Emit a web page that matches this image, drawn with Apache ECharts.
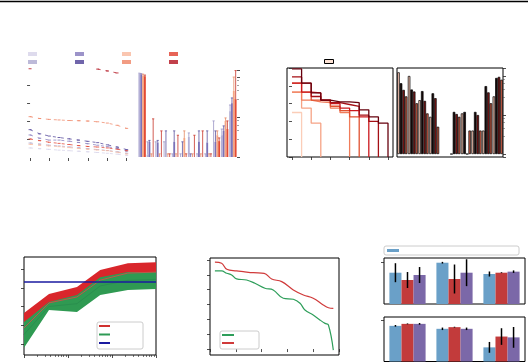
<!DOCTYPE html>
<html><head><meta charset="utf-8">
<script src="https://cdn.jsdelivr.net/npm/echarts/dist/echarts.min.js"></script>
<style>html,body{margin:0;padding:0;background:#fff}#c{width:528px;height:362px}</style>
</head><body><div id="c"></div>
<script>
// ---------- Panel A (dashed lines) ----------
const aX = [0,0.5,1,1.5,2,2.5,3,3.5,4,4.5,5];
const aLightLav  = [0.55,0.51,0.47,0.43,0.40,0.37,0.34,0.30,0.26,0.21,0.14];
const aLav       = [0.82,0.76,0.70,0.66,0.61,0.56,0.51,0.46,0.41,0.34,0.26];
const aPurple    = [1.26,1.08,0.98,0.98,0.92,0.85,0.78,0.70,0.62,0.52,0.38];
const aDarkPurple= [1.55,1.32,1.20,1.12,1.05,0.98,0.91,0.84,0.72,0.60,0.46];
const aLightSal  = [0.75,0.70,0.66,0.62,0.57,0.52,0.48,0.44,0.40,0.32,0.22];
const aSalmon    = [2.26,2.16,2.11,2.08,2.05,2.04,2.02,1.98,1.91,1.79,1.62];
const aRed       = [1.04,0.95,0.86,0.80,0.74,0.68,0.63,0.60,0.55,0.48,0.40];
const aDarkRed   = [4.88,null,null,null,null,null,null,4.86,4.76,4.65,null];
const aTicksX = [0,1,2,3,4,5];
const aTicksY = [1,2,3,4];

// ---------- Panel B (grouped bars, log) ----------
const bCats = ['1','2','3','4','5','6','7','8','9','10','11','12'];
const bLav    = [120,1.15,1.0,1.0,1.0,1.0,3.2,1.0,1.0,1.0,3.5,14];
const bPurple = [115,2.4,2.3,1.0,2.4,1.0,1.0,2.4,2.3,2.4,4.5,22];
const bSalmon = [110,1.0,1.0,1.0,1.0,3.0,1.0,1.0,1.0,3.5,8.0,45];
const bRed    = [105,1.0,1.0,1.0,1.0,1.0,1.0,1.0,1.0,2.5,5.0,28];
const bLavHi    = [125,2.4,2.4,2.4,1.2,1.2,4.0,1.2,1.2,8.0,5.0,20];
const bPurpleHi = [120,2.6,2.6,4.5,4.5,2.4,1.2,4.5,4.5,4.5,6.0,30];
const bSalmonHi = [118,1.2,1.2,1.2,1.2,4.5,1.2,1.2,1.2,4.5,9.5,100];
const bRedHi    = [112,9.0,4.5,1.2,3.5,1.2,3.5,4.5,1.2,3.0,8.0,145];

// ---------- Panel C (step curves) ----------
const cX = [0,0.5,1,1.5,2,2.5,3,3.5,4,4.5,5];
const cS1 = [4.95,4.15,3.6,3.2,3.1,3.1,3.05,2.65,2.25,1.9,0];
const cS2 = [4.5,4.15,3.4,3.2,3.05,2.95,2.85,2.35,2.0,0];
const cS3 = [4.15,3.65,3.6,3.2,3.0,2.75,2.6,2.25,0];
const cS4 = [4.15,3.65,3.2,3.15,2.85,2.6,2.25,0];
const cS5 = [3.65,3.2,3.1,3.05,2.75,2.5,0];
const cS6 = [3.65,2.75,1.9,0];
const cS7 = [2.5,0];
const cTicks = [0,1,2,3,4,5];

// ---------- Panel D (dark bars, log) ----------
const dCats = ['1','2','3','4','5','6','7','8','9','10'];
const dLight  = [124,100,24,9,null,1,11,4,4,30];
const dBlack  = [65,45,41,36,null,12,12,12,55,89];
const dDark   = [44,40,23,27,null,10.6,1,10,38,95];
const dSalmon = [30,20,11,5,null,9,4,4,20,80];

// ---------- Panel E (bands, log x) ----------
const eX = [1,3.7,16,54,230,1000];
const eRedHigh   = [2.65,3.67,4.04,4.95,5.32,5.37];
const eRedLow    = [2.05,3.15,3.5,4.45,4.75,4.75];
const eGreenHigh = [2.17,3.24,3.61,4.57,4.84,4.84];
const eGreenLow  = [0.79,2.81,2.71,3.61,3.88,3.93];
const eRedMean   = [1.85,3.19,3.51,4.41,4.79,4.84];
const eGreenMean = [1.5,3.0,3.15,4.1,4.4,4.45];
const eBlueX = [1,1000];
const eBlueY = [4.31,4.31];
const eTicksY = [1,2,3,4,5];

// ---------- Panel F (two decreasing lines) ----------
const fRedX = [0.19,0.45,0.65,1.03,1.29,1.68,2.10,2.39,2.78,3.23,3.62,4.00,4.39,4.59,4.78];
const fRedY = [5.85,5.78,5.37,5.26,5.21,5.14,5.10,4.72,4.54,3.98,3.64,3.42,2.97,2.78,2.74];
const fGreenX = [0.19,0.45,0.65,0.84,1.03,1.42,1.74,2.13,2.45,2.84,3.23,3.49,3.68,4.00,4.26,4.46,4.59,4.78];
const fGreenY = [5.26,5.26,5.10,4.99,4.72,4.65,4.43,4.09,3.98,3.42,3.35,3.08,2.63,2.29,1.96,1.73,1.62,-0.07];
const fTicksY = [0,1,2,3,4,5,6];

// ---------- Panel G (two bar subplots) ----------
const gCats = ['1','2','3'];
const gTopBlue = [0.745,0.983,0.714], gTopBlueErr = [0.226,0.02,0.06];
const gTopRed = [0.571,0.595,0.745], gTopRedErr = [0.19,0.345,0.01];
const gTopPurple = [0.69,0.745,0.77], gTopPurpleErr = [0.19,0.32,0.03];
const gBotBlue = [0.857,0.786,0.34], gBotBlueErr = [0.02,0.03,0.13];
const gBotRed = [0.905,0.826,0.60], gBotRedErr = [0.01,0.01,0.2];
const gBotPurple = [0.905,0.786,0.58], gBotPurpleErr = [0.02,0.03,0.25];

// ---------- helpers ----------
const tick = (vals) => ({show:true, length:3, lineStyle:{color:'#222', width:0.8}, customValues: vals});
function vAxis(gi, extra){
  return Object.assign({type:'value', gridIndex:gi, axisLine:{show:false}, axisLabel:{show:false},
    splitLine:{show:false}, axisTick:{show:true, length:3, lineStyle:{color:'#222', width:0.8}}}, extra);
}
function cAxis(gi, data, extra){
  return Object.assign({type:'category', gridIndex:gi, data, axisLine:{show:false}, axisLabel:{show:false},
    axisTick:{show:false}, splitLine:{show:false}}, extra);
}
const zip = (xs, ys) => xs.map((x,i)=>[x, ys[i]]);
function aLine(name, ys, color){
  return {type:'line', name, xAxisIndex:0, yAxisIndex:0, data: zip(aX, ys), connectNulls:false,
    symbol:'rect', symbolSize:[3,1], showAllSymbol:true, itemStyle:{color, opacity:0.85},
    lineStyle:{color, width:0.9, type:[3,5], opacity:0.85}, z:3};
}
function bars(name, xi, yi, vals, color, gap, extra){
  return Object.assign({type:'bar', name, xAxisIndex:xi, yAxisIndex:yi, data: vals,
    barGap:'0%', barCategoryGap: gap, itemStyle:{color}}, extra||{});
}
function errBars(xi, yi, lo, hi, k, n, gap, color, cap, lw){
  return {type:'custom', xAxisIndex:xi, yAxisIndex:yi, z:5, silent:true,
    data: lo.map((l,i)=>[i, l, hi[i]]),
    renderItem(params, api){
      const i = api.value(0), l = api.value(1), h = api.value(2);
      if (isNaN(l) || isNaN(h)) return null;
      const band = api.size([1,0])[0];
      const inner = band*(1-gap);
      const bw = inner/n;
      const p1 = api.coord([i, l]), p2 = api.coord([i, h]);
      const cx = p1[0] - inner/2 + bw*(k+0.5);
      const c = bw*cap;
      const st = {stroke:color, lineWidth:lw};
      const ch = [{type:'line', shape:{x1:cx,y1:p1[1],x2:cx,y2:p2[1]}, style:st}];
      if (c > 0) {
        ch.push({type:'line', shape:{x1:cx-c,y1:p2[1],x2:cx+c,y2:p2[1]}, style:st});
      }
      return {type:'group', children: ch};
    }};
}
function band(xi, yi, xs, lo, hi, color, z){
  return {type:'custom', xAxisIndex:xi, yAxisIndex:yi, z, silent:true,
    data: xs.map((x,i)=>[x, lo[i], hi[i]]),
    encode:{x:0, y:[1,2]},
    renderItem(params, api){
      if (params.dataIndex !== 0) return null;
      const pts = [];
      for (let i=0;i<xs.length;i++) pts.push(api.coord([xs[i], hi[i]]));
      for (let i=xs.length-1;i>=0;i--) pts.push(api.coord([xs[i], lo[i]]));
      return {type:'polygon', shape:{points:pts}, style:{fill:color}};
    }};
}
const pm = (v, e, s) => v.map((x,i)=> x + s*e[i]);

const border = {show:true, borderColor:'#000', borderWidth:1, backgroundColor:'transparent'};
const noText = () => '';
const legendBase = {formatter: noText, textStyle:{fontSize:2}, selectedMode:false};

const cColors = ['#67000d','#a50f15','#cb181d','#e0502f','#f07c5a','#f6a385','#fbcdb8'];
const cData = [cS1,cS2,cS3,cS4,cS5,cS6,cS7];

const gBlue = '#6aa0c8', gRed = '#c23b3b', gPurple = '#7b68a8';
const gGap = 0.23;

const option = {
  animation:false,
  backgroundColor:'#fff',
  graphic:[{type:'line', shape:{x1:0,y1:1.5,x2:528,y2:1.5}, style:{stroke:'#000', lineWidth:1.5}}],
  legend:[
    Object.assign({}, legendBase, {left:28, top:52, itemWidth:9, itemHeight:4, itemGap:38, icon:'rect', padding:0,
      data:['A lightlav','A purple','A lightsal','A red']}),
    Object.assign({}, legendBase, {left:28, top:60, itemWidth:9, itemHeight:4, itemGap:38, icon:'rect', padding:0,
      data:['A lav','A darkpurple','A salmon','A darkred']}),
    Object.assign({}, legendBase, {left:324, top:59, itemWidth:9, itemHeight:4, icon:'rect', padding:0,
      data:[{name:'C7', itemStyle:{color:'#fde2d4', borderColor:'#000', borderWidth:1}}]}),
    Object.assign({}, legendBase, {left:97, top:322, orient:'vertical', itemWidth:11, itemHeight:2, itemGap:6.5,
      icon:'rect', padding:[3,33,5,2], backgroundColor:'#fff', borderColor:'#ccc', borderWidth:1, borderRadius:2,
      data:['E red','E green','E blue']}),
    Object.assign({}, legendBase, {left:220, top:331, orient:'vertical', itemWidth:12, itemHeight:2, itemGap:6,
      icon:'rect', padding:[3,25,5,2], backgroundColor:'#fff', borderColor:'#ccc', borderWidth:1, borderRadius:2,
      data:['F green','F red']}),
    Object.assign({}, legendBase, {left:384, top:246, itemWidth:12, itemHeight:3, icon:'rect',
      padding:[3,120,3,3], backgroundColor:'#fff', borderColor:'#ccc', borderWidth:1, borderRadius:2,
      data:['G blue']})
  ],
  grid:[
    {left:26, top:66, width:102.6, height:92},
    {left:138, top:70, width:99, height:87},
    Object.assign({left:287, top:68, width:106, height:89}, border),
    Object.assign({left:397, top:68, width:106, height:89}, border),
    Object.assign({left:24, top:257, width:132, height:98}, border),
    Object.assign({left:210, top:258, width:129, height:97}, border),
    Object.assign({left:384, top:258, width:141, height:46}, border),
    Object.assign({left:384, top:317, width:141, height:44.5}, border)
  ],
  xAxis:[
    vAxis(0, {min:-0.21, max:5.1, axisTick: tick(aTicksX)}),
    cAxis(1, bCats),
    vAxis(2, {min:-0.26, max:5.26, axisTick: tick(cTicks)}),
    cAxis(3, dCats),
    {type:'log', gridIndex:4, min:1, max:1000, axisLine:{show:false}, axisLabel:{show:false}, splitLine:{show:false},
      axisTick:{show:true, length:3, lineStyle:{color:'#222', width:0.8}},
      minorTick:{show:true, length:2, splitNumber:9, lineStyle:{color:'#222', width:0.6}}},
    vAxis(5, {min:0, max:5, interval:1}),
    cAxis(6, gCats),
    cAxis(7, gCats)
  ],
  yAxis:[
    vAxis(0, {min:0, max:5.03, axisTick: tick(aTicksY)}),
    {type:'log', gridIndex:1, position:'right', min:1, max:150, axisLine:{show:false}, axisLabel:{show:false},
      splitLine:{show:false}, axisTick:{show:true, length:3, lineStyle:{color:'#222', width:0.8}},
      minorTick:{show:true, length:2, lineStyle:{color:'#444', width:0.5}}},
    vAxis(2, {min:0, max:5, interval:1}),
    {type:'log', gridIndex:3, position:'right', min:0.84, max:160, axisLine:{show:false}, axisLabel:{show:false},
      splitLine:{show:false}, axisTick:{show:true, length:3, lineStyle:{color:'#222', width:0.8}},
      minorTick:{show:true, length:2, lineStyle:{color:'#444', width:0.5}}},
    vAxis(4, {min:0.4, max:5.65, axisTick: tick(eTicksY)}),
    vAxis(5, {min:-0.4, max:6.13, axisTick: tick(fTicksY)}),
    vAxis(6, {min:0, max:1.095, axisTick: tick([1])}),
    vAxis(7, {min:0, max:1.07, axisTick: tick([1])})
  ],
  series:[
    // A
    aLine('A lightlav', aLightLav, '#d8d5ea'),
    aLine('A lav', aLav, '#b2aed2'),
    aLine('A purple', aPurple, '#8b80c0'),
    aLine('A darkpurple', aDarkPurple, '#574a9c'),
    aLine('A lightsal', aLightSal, '#f9bca2'),
    aLine('A salmon', aSalmon, '#f08b6d'),
    aLine('A red', aRed, '#e3493a'),
    aLine('A darkred', aDarkRed, '#b7202c'),
    // B
    bars('B lav', 1, 1, bLav, '#b4b0d6', '10%'),
    bars('B purple', 1, 1, bPurple, '#7b72b8', '10%'),
    bars('B salmon', 1, 1, bSalmon, '#f4a582', '10%'),
    bars('B red', 1, 1, bRed, '#e34a33', '10%'),
    errBars(1, 1, bLav, bLavHi, 0, 4, 0.1, '#9c97c6', 0.6, 0.8),
    errBars(1, 1, bPurple, bPurpleHi, 1, 4, 0.1, '#5d54a0', 0.6, 0.8),
    errBars(1, 1, bSalmon, bSalmonHi, 2, 4, 0.1, '#e58a66', 0.6, 0.8),
    errBars(1, 1, bRed, bRedHi, 3, 4, 0.1, '#c8352a', 0.6, 0.8),
    // C
    ...cData.map((ys, k) => ({type:'line', name:'C'+(k+1), xAxisIndex:2, yAxisIndex:2, step:'end',
      data: zip(cX.slice(0, ys.length), ys), symbol:'none', z: 10-k,
      itemStyle:{color:cColors[k]}, lineStyle:{color:cColors[k], width:1.3}})),
    // D
    bars('D light', 3, 3, dLight, '#f1c0ae', '4%', {itemStyle:{color:'#f1c0ae', borderColor:'#000', borderWidth:0.7}}),
    bars('D black', 3, 3, dBlack, '#170909', '4%', {itemStyle:{color:'#170909', borderColor:'#000', borderWidth:0.7}}),
    bars('D dark', 3, 3, dDark, '#7b1515', '4%', {itemStyle:{color:'#7b1515', borderColor:'#000', borderWidth:0.7}}),
    bars('D salmon', 3, 3, dSalmon, '#c85c45', '4%', {itemStyle:{color:'#c85c45', borderColor:'#000', borderWidth:0.7}}),
    // E
    band(4, 4, eX, eRedLow, eRedHigh, '#d9262b', 1),
    band(4, 4, eX, eGreenLow, eGreenHigh, '#2f9a52', 2),
    {type:'line', name:'E red', xAxisIndex:4, yAxisIndex:4, data: zip(eX, eRedMean), symbol:'none', z:4,
      itemStyle:{color:'#d0312f'}, lineStyle:{color:'#c0574a', width:1}},
    {type:'line', name:'E green', xAxisIndex:4, yAxisIndex:4, data: zip(eX, eGreenMean), symbol:'none', z:3,
      itemStyle:{color:'#2e9a55'}, lineStyle:{color:'#2a8f4e', width:1}},
    {type:'line', name:'E blue', xAxisIndex:4, yAxisIndex:4, data: zip(eBlueX, eBlueY), symbol:'none', z:5,
      itemStyle:{color:'#1a1aa0'}, lineStyle:{color:'#1a1aa0', width:1.3}},
    // F
    {type:'line', name:'F red', xAxisIndex:5, yAxisIndex:5, data: zip(fRedX, fRedY), symbol:'none', smooth:0.4,
      itemStyle:{color:'#d03a3a'}, lineStyle:{color:'#d03a3a', width:1.2}},
    {type:'line', name:'F green', xAxisIndex:5, yAxisIndex:5, data: zip(fGreenX, fGreenY), symbol:'none', smooth:0.4,
      itemStyle:{color:'#2e9e5a'}, lineStyle:{color:'#2e9e5a', width:1.2}},
    // G top
    bars('G blue', 6, 6, gTopBlue, gBlue, '23%'),
    bars('G red', 6, 6, gTopRed, gRed, '23%'),
    bars('G purple', 6, 6, gTopPurple, gPurple, '23%'),
    errBars(6, 6, pm(gTopBlue, gTopBlueErr, -1), pm(gTopBlue, gTopBlueErr, 1), 0, 3, gGap, '#000', 0, 1.5),
    errBars(6, 6, pm(gTopRed, gTopRedErr, -1), pm(gTopRed, gTopRedErr, 1), 1, 3, gGap, '#000', 0, 1.5),
    errBars(6, 6, pm(gTopPurple, gTopPurpleErr, -1), pm(gTopPurple, gTopPurpleErr, 1), 2, 3, gGap, '#000', 0, 1.5),
    // G bottom
    bars('G blue2', 7, 7, gBotBlue, gBlue, '23%'),
    bars('G red2', 7, 7, gBotRed, gRed, '23%'),
    bars('G purple2', 7, 7, gBotPurple, gPurple, '23%'),
    errBars(7, 7, pm(gBotBlue, gBotBlueErr, -1), pm(gBotBlue, gBotBlueErr, 1), 0, 3, gGap, '#000', 0, 1.5),
    errBars(7, 7, pm(gBotRed, gBotRedErr, -1), pm(gBotRed, gBotRedErr, 1), 1, 3, gGap, '#000', 0, 1.5),
    errBars(7, 7, pm(gBotPurple, gBotPurpleErr, -1), pm(gBotPurple, gBotPurpleErr, 1), 2, 3, gGap, '#000', 0, 1.5)
  ]
};
const chart = echarts.init(document.getElementById('c'), null, {renderer:'canvas', width:528, height:362});
chart.setOption(option);
</script>
</body></html>
